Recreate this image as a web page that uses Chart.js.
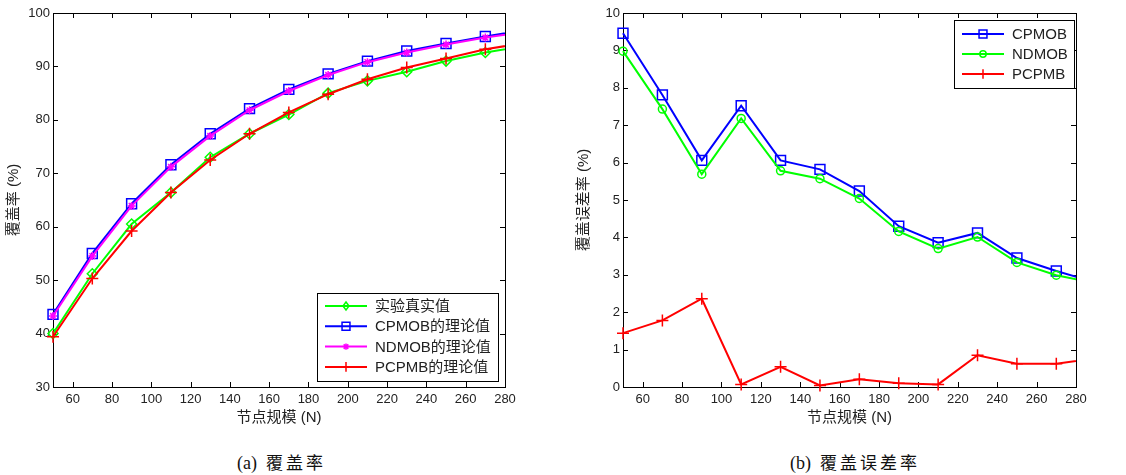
<!DOCTYPE html>
<html>
<head>
<meta charset="utf-8">
<script src="https://cdn.jsdelivr.net/npm/chart.js@4.4.1/dist/chart.umd.min.js"></script>
<style>
  body { margin: 0; background: #fff; width: 1126px; height: 475px; position: relative; overflow: hidden; }
  canvas { position: absolute; top: 0; }
  .cap { position: absolute; top: 449px; font-size: 18px; font-family: "Liberation Serif", "Noto Sans CJK SC", serif; color: #111; white-space: nowrap; }
  .cap span { font-family: "Noto Sans CJK SC", serif; font-size: 17px; letter-spacing: 3px; }
</style>
</head>
<body>
<canvas id="cover" width="560" height="440" style="left:0"></canvas>
<canvas id="error" width="556" height="440" style="left:570px"></canvas>
<div class="cap" style="left:237px">(a)&nbsp; <span>覆盖率</span></div>
<div class="cap" style="left:790px">(b)&nbsp; <span>覆盖误差率</span></div>
<script>
// node counts (last point lies past the axis limit and is clipped, as in the original)
var nodes = [50, 70, 90, 110, 130, 150, 170, 190, 210, 230, 250, 270, 290];
var xTicks = [60, 80, 100, 120, 140, 160, 180, 200, 220, 240, 260, 280];

// (a) coverage rate, %
var coverTicks = [30, 40, 50, 60, 70, 80, 90, 100];
var coverReal  = [40.0, 51.2, 60.5, 66.4, 73.0, 77.4, 81.0, 85.0, 87.3, 89.0, 91.0, 92.6, 93.8];
var coverCPMOB = [43.6, 55.0, 64.3, 71.6, 77.4, 82.1, 85.7, 88.6, 91.0, 92.9, 94.3, 95.6, 96.8];
var coverNDMOB = [43.3, 54.5, 63.9, 71.2, 77.0, 81.8, 85.4, 88.4, 90.8, 92.6, 94.1, 95.4, 96.5];
var coverPCPMB = [39.4, 50.3, 59.2, 66.4, 72.5, 77.4, 81.4, 84.8, 87.6, 89.8, 91.5, 93.2, 94.4];

// (b) coverage error rate, %
var errTicks = [0, 1, 2, 3, 4, 5, 6, 7, 8, 9, 10];
var errCPMOB = [9.46, 7.81, 6.06, 7.52, 6.06, 5.82, 5.24, 4.30, 3.86, 4.12, 3.45, 3.10, 2.80];
var errNDMOB = [8.98, 7.43, 5.69, 7.18, 5.78, 5.57, 5.04, 4.16, 3.70, 4.01, 3.33, 2.99, 2.77];
var errPCPMB = [1.44, 1.78, 2.36, 0.07, 0.54, 0.04, 0.21, 0.10, 0.07, 0.85, 0.62, 0.62, 0.77];

var TICK_FONT = { family: '"Liberation Sans", Arial, "Noto Sans CJK SC"', size: 13 };
var CJK_FONT = '"Liberation Sans", Arial, "Noto Sans CJK SC"';

function pts(ys) {
  return nodes.map(function (x, i) { return { x: x, y: ys[i] }; });
}

function marker(ctx, style, r, x, y) {
  ctx.beginPath();
  if (style === 'rect') {
    var s = r * Math.SQRT1_2;
    ctx.rect(x - s, y - s, 2 * s, 2 * s);
  } else if (style === 'rectRot') {
    ctx.moveTo(x, y - r); ctx.lineTo(x + r * 0.75, y); ctx.lineTo(x, y + r); ctx.lineTo(x - r * 0.75, y); ctx.closePath();
  } else if (style === 'circle') {
    ctx.arc(x, y, r, 0, Math.PI * 2);
  } else if (style === 'cross') {
    ctx.moveTo(x - r, y); ctx.lineTo(x + r, y); ctx.moveTo(x, y - r); ctx.lineTo(x, y + r);
  } else if (style === 'star') {
    var d = r * Math.SQRT1_2;
    ctx.moveTo(x - r, y); ctx.lineTo(x + r, y); ctx.moveTo(x, y - r); ctx.lineTo(x, y + r);
    ctx.moveTo(x - d, y - d); ctx.lineTo(x + d, y + d); ctx.moveTo(x - d, y + d); ctx.lineTo(x + d, y - d);
  }
  ctx.stroke();
}

// Matlab-like box with inward ticks on all four sides
var framePlugin = {
  id: 'frame',
  beforeDatasetsDraw: function (chart) {
    var ctx = chart.ctx, a = chart.chartArea, x = chart.scales.x, y = chart.scales.y;
    ctx.save();
    ctx.strokeStyle = '#000';
    ctx.lineWidth = 1;
    ctx.beginPath();
    x.ticks.forEach(function (t) {
      var px = Math.round(x.getPixelForValue(t.value)) + 0.5;
      ctx.moveTo(px, a.bottom); ctx.lineTo(px, a.bottom - 5);
      ctx.moveTo(px, a.top); ctx.lineTo(px, a.top + 5);
    });
    y.ticks.forEach(function (t) {
      var py = Math.round(y.getPixelForValue(t.value)) + 0.5;
      ctx.moveTo(a.left, py); ctx.lineTo(a.left + 5, py);
      ctx.moveTo(a.right, py); ctx.lineTo(a.right - 5, py);
    });
    ctx.stroke();
    ctx.strokeRect(Math.round(a.left) + 0.5, Math.round(a.top) + 0.5, Math.round(a.right - a.left), Math.round(a.bottom - a.top));
    ctx.restore();
  }
};

// legend box drawn inside the plot area
var boxLegendPlugin = {
  id: 'boxLegend',
  afterDraw: function (chart, args, opt) {
    var ctx = chart.ctx, a = chart.chartArea;
    var bx = a.right - opt.marginRight - opt.width;
    var by = opt.anchor === 'bottom' ? a.bottom - opt.marginY - opt.height : a.top + opt.marginY;
    ctx.save();
    ctx.fillStyle = '#fff';
    ctx.fillRect(bx, by, opt.width, opt.height);
    ctx.strokeStyle = '#000';
    ctx.lineWidth = 1;
    ctx.strokeRect(Math.round(bx) + 0.5, Math.round(by) + 0.5, opt.width, opt.height);
    ctx.font = opt.fontSize + 'px ' + CJK_FONT;
    ctx.textBaseline = 'middle';
    chart.data.datasets.forEach(function (ds, i) {
      var cy = by + opt.firstRow + i * opt.rowH;
      var x0 = bx + opt.lineX;
      ctx.strokeStyle = ds.borderColor;
      ctx.lineWidth = ds.borderWidth;
      ctx.beginPath(); ctx.moveTo(x0, cy); ctx.lineTo(x0 + opt.lineLen, cy); ctx.stroke();
      ctx.lineWidth = ds.pointBorderWidth;
      marker(ctx, ds.pointStyle, ds.pointRadius * 0.8, x0 + opt.lineLen / 2, cy);
      ctx.fillStyle = '#222';
      ctx.fillText(ds.label, x0 + opt.lineLen + opt.textGap, cy + 1);
    });
    ctx.restore();
  }
};

function series(label, ys, color, style, r, order) {
  return {
    label: label, data: pts(ys), borderColor: color, backgroundColor: color,
    borderWidth: 2, pointStyle: style, pointRadius: r, pointBorderWidth: 1.5,
    pointBackgroundColor: 'rgba(0,0,0,0)', pointBorderColor: color,
    clip: { left: 12, top: 12, right: 0, bottom: 12 }, order: order, tension: 0
  };
}

function makeChart(id, datasets, yTicks, yMin, yMax, yTitle, padRight, legend) {
  return new Chart(document.getElementById(id), {
    type: 'line',
    data: { datasets: datasets },
    plugins: [framePlugin, boxLegendPlugin],
    options: {
      responsive: false, animation: false,
      layout: { padding: { top: 13, right: padRight, bottom: 0, left: 0 } },
      plugins: { legend: { display: false }, tooltip: { enabled: false }, boxLegend: legend },
      elements: { point: { drawActiveElementsOnTop: false } },
      scales: {
        x: {
          type: 'linear', min: 50, max: 280,
          grid: { display: false, drawTicks: false }, border: { display: false },
          afterBuildTicks: function (s) { s.ticks = xTicks.map(function (v) { return { value: v }; }); },
          afterFit: function (s) { s.height = 53; },
          ticks: { font: TICK_FONT, color: '#222', padding: 5, maxRotation: 0, autoSkip: false },
          title: { display: true, text: '节点规模 (N)', color: '#222', font: { family: CJK_FONT, size: 15 }, padding: { top: 0, bottom: 13 } }
        },
        y: {
          min: yMin, max: yMax,
          grid: { display: false, drawTicks: false }, border: { display: false },
          afterBuildTicks: function (s) { s.ticks = yTicks.map(function (v) { return { value: v }; }); },
          afterFit: function (s) { s.width = 53; },
          ticks: { font: TICK_FONT, color: '#222', padding: 3, autoSkip: false },
          title: { display: true, text: yTitle, color: '#222', font: { family: CJK_FONT, size: 15 }, padding: { top: 5, bottom: 0 } }
        }
      }
    }
  });
}

makeChart('cover', [
  series('实验真实值', coverReal, '#00ff00', 'rectRot', 5, 3),
  series('CPMOB的理论值', coverCPMOB, '#0000ff', 'rect', 7, 2),
  series('NDMOB的理论值', coverNDMOB, '#ff00ff', 'star', 4, 1),
  series('PCPMB的理论值', coverPCPMB, '#ff0000', 'cross', 6, 0)
], coverTicks, 30, 100, '覆盖率 (%)', 55,
  { anchor: 'bottom', marginRight: 7, marginY: 6, width: 181, height: 88, firstRow: 13, rowH: 20.3, lineX: 8, lineLen: 42, textGap: 8, fontSize: 15 });

makeChart('error', [
  series('CPMOB', errCPMOB, '#0000ff', 'rect', 7, 2),
  series('NDMOB', errNDMOB, '#00ff00', 'circle', 4, 1),
  series('PCPMB', errPCPMB, '#ff0000', 'cross', 6, 0)
], errTicks, 0, 10, '覆盖误差率 (%)', 50,
  { anchor: 'top', marginRight: 2, marginY: 7, width: 120, height: 68, firstRow: 14, rowH: 20, lineX: 8, lineLen: 42, textGap: 8, fontSize: 15 });
</script>
</body>
</html>
